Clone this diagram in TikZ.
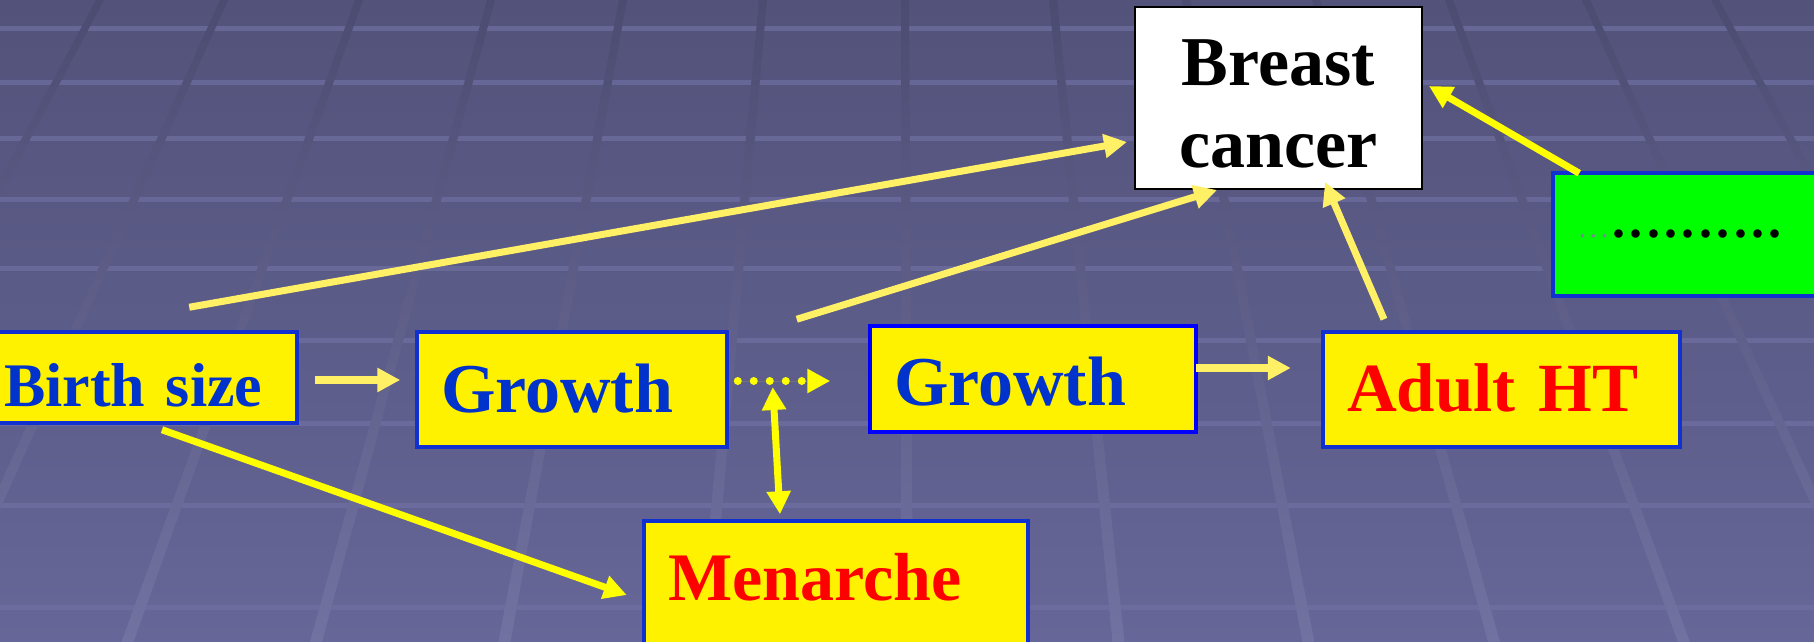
\documentclass[tikz,border=0pt]{standalone}
\usepackage{fontspec}
\setmainfont{Liberation Serif}
\usetikzlibrary{arrows.meta,calc}
\definecolor{bgtop}{RGB}{82,82,122}
\definecolor{bgbot}{RGB}{102,102,152}
\definecolor{ltop}{RGB}{76,76,114}
\definecolor{lbot}{RGB}{114,114,162}
\definecolor{band}{RGB}{112,112,162}
\definecolor{boxblue}{RGB}{16,48,208}
\definecolor{txtblue}{RGB}{0,51,204}
\definecolor{paleyel}{RGB}{255,240,102}
\definecolor{brightyel}{RGB}{255,255,0}
\definecolor{grnfill}{RGB}{0,255,0}
\definecolor{dotgray}{RGB}{128,128,160}
\newcommand\mydotb{\makebox[8.7pt]{.}}
\newcommand\mydotg{\makebox[5.5pt]{.}}
\begin{document}
\begin{tikzpicture}[x=0.5pt,y=-0.5pt,
  box/.style={draw=boxblue, line width=1.75pt, fill=yellow, inner xsep=12pt, inner ysep=0pt, align=left, text depth=0pt},
  arr/.style={line width=3.5pt, -{Triangle[length=11.5pt,width=11.5pt]}},
  pale/.style={arr, draw=paleyel, fill=paleyel},
  bright/.style={arr, draw=brightyel, fill=brightyel}
]
\useasboundingbox (0,0) rectangle (1814,642);
\begin{scope}
\clip (0,0) rectangle (1814,642);
\shade[top color=bgtop,bottom color=bgbot] (0,0) rectangle (1814,642);
\foreach \yy in {28,82,138,199,268,340,423,505,607} {
  \fill[band, opacity=0.7] (0,\yy-2) rectangle (1814,\yy+3);
}
\foreach \xx in {100,224,359,491,623,763,905,1053,1186,1316,1449,1586,1715} {
  \pgfmathsetmacro{\bb}{900+(\xx-900)*1.428}
  \shade[top color=ltop,bottom color=lbot] (\xx-4,0) -- (\xx+4,0) -- (\bb+6,642) -- (\bb-6,642) -- cycle;
}
\end{scope}

% boxes
\node[box, minimum width=158.5pt, minimum height=45.5pt, text width=134.5pt, text height=28.5pt,
      text=txtblue, font=\fontsize{31}{36}\selectfont\bfseries] (bs) at (138.5,377.5) {Birth size};
\node[box, minimum width=155pt, minimum height=57.5pt, text width=131pt, text height=22.5pt,
      text=txtblue, font=\fontsize{35}{40}\selectfont\bfseries] (g1) at (572,389.5) {Growth};
\node[box, draw=blue, minimum width=163pt, minimum height=53pt, text width=139pt, text height=26pt,
      text=txtblue, font=\fontsize{35}{40}\selectfont\bfseries] (g2) at (1033,379) {Growth};
\node[box, minimum width=178.5pt, minimum height=57.5pt, text width=154.5pt, text height=21.5pt,
      text=red, font=\fontsize{34.5}{40}\selectfont\bfseries] (aht) at (1501.5,389.5) {Adult HT};
\node[box, minimum width=192pt, minimum height=69.5pt, text width=168pt, text height=9.5pt,
      text=red, font=\fontsize{34}{40}\selectfont\bfseries] (men) at (836,590.5) {Menarche};
\node[draw=black, line width=1pt, fill=white, minimum width=143.5pt, minimum height=91pt,
      inner xsep=12pt, inner ysep=0pt, text width=119.5pt, align=center, text height=23.5pt, text depth=35.5pt,
      font=\fontsize{35}{41}\selectfont\bfseries] (bc) at (1278.5,98) {Breast\\cancer};
\node[box, fill=grnfill, minimum width=143.5pt, minimum height=61.5pt, text width=119.5pt, text height=3pt]
      (grn) at (1696.5,234.5)
      {\textcolor{dotgray}{\fontsize{14}{14}\selectfont\mydotg\mydotg\mydotg}\fontsize{26}{26}\selectfont\bfseries\mydotb\mydotb\mydotb\mydotb\mydotb\mydotb\mydotb\mydotb\mydotb\mydotb};

% connectors
\draw[pale] ($(bs.north west)+(211,-23)$) -- ($(bc.west)+(-7,44)$);
\draw[pale] ($(g1.north east)+(68,-11)$) -- ($(bc.south)+(-61.5,0)$);
\draw[pale] ($(aht.north)+(-117.5,-11)$) -- ($(bc.south)+(46.5,-8)$);
\draw[bright] ($(grn.north west)+(28,2)$) -- ($(bc.east)+(6,-12)$);
\draw[pale, line width=4pt] ($(bs.east)+(16,2.5)$) -- ($(g1.west)+(-15,-9.5)$);
\draw[bright, line width=4pt, line cap=round, dash pattern=on 0pt off 8pt] ($(g1.east)+(9,-8.5)$) -- ($(g2.west)+(-38,2)$);
\coordinate (mid) at ($(g1.east)+(44,-2.5)$);
\draw[bright, {Triangle[length=11.5pt,width=11.5pt]}-{Triangle[length=11.5pt,width=11.5pt]}] (mid) -- ($(men.north)+(-56,-5)$);
\draw[bright] ($(bs.south)+(23.5,5)$) -- ($(men.west)+(-15.5,4.5)$);
\draw[pale, line width=4pt] ($(g2.east)+(-2,-11)$) -- ($(aht.west)+(-30.5,-21.5)$);
\end{tikzpicture}
\end{document}
